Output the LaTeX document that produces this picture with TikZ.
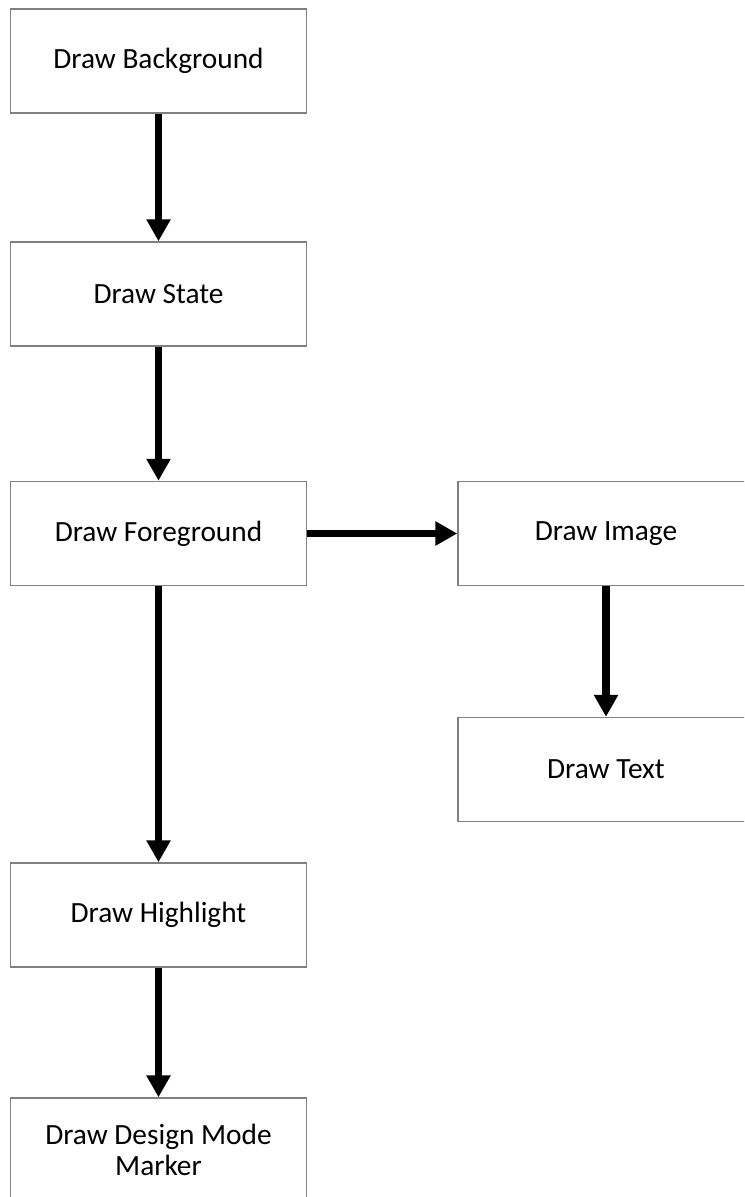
\documentclass[tikz,border=0pt]{standalone}
\usepackage{fontspec}
\setmainfont{Carlito}
\usepackage{xcolor}
\usepackage{tikz}
\usetikzlibrary{arrows.meta}
\usetikzlibrary{calc}

\begin{document}
\begin{tikzpicture}[x=0.02cm, y=-0.02cm,
    box/.style={draw=black!50, line width=0.8pt, fill=white,
        minimum width=5.92cm, minimum height=2.08cm, align=center,
        font=\fontsize{16.7}{17.5}\selectfont},
    flow/.style={line width=4.5pt, -{Triangle[width=0.46cm,length=0.44cm]}}]
\useasboundingbox (0,0) rectangle (744,1197);
\clip (0,0) rectangle (744,1197);
\begin{scope}
    \node[box] (back) at (158.5,61) {Draw Background};
    \node[box] (state) at (158.5,294) {Draw State};
    \node[box] (fore) at (158.5,533.5) {Draw Foreground};
    \node[box] (high) at (158.5,915) {Draw Highlight};
    \node[box] (mark) at (158.5,1150) {Draw Design Mode\\Marker};
    \node[box] (img) at (606,533.5) {Draw Image};
    \node[box] (txt) at (606,769.5) {Draw Text};
    %\draw (fore) node {$\bullet$};
    \draw[flow] (back) to (state);
    \draw[flow] (state) to (fore);
    \draw[flow] (fore) to (high);
    \draw[flow] (high) to (mark);
    \draw[flow] (fore) to (img);
    \draw[flow] (img) to (txt);
\end{scope}
\end{tikzpicture}
\end{document}
